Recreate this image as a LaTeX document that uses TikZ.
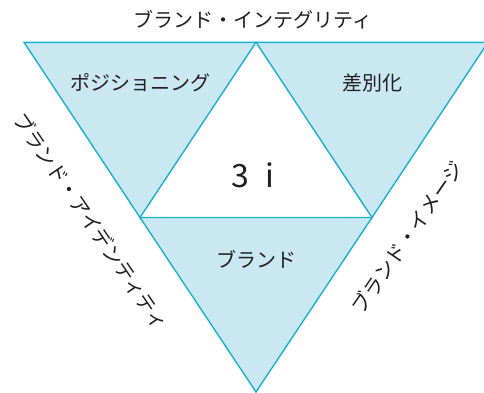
\documentclass[tikz,border=0pt]{standalone}
\usepackage{fontspec}
\setmainfont{Noto Sans CJK JP}
\definecolor{edge}{HTML}{1BB0CF}
\definecolor{paleblue}{HTML}{C9E8F2}
\definecolor{ink}{HTML}{231F20}
\tikzset{
  facet/.style={fill=paleblue, draw=edge, line width=1.4pt, line join=miter},
  lbl/.style={text=ink, font=\fontsize{20}{24}\selectfont, inner sep=0pt}
}
\begin{document}
\begin{tikzpicture}[x=1pt,y=1pt]
\useasboundingbox (0,0) rectangle (484,392);
\coordinate (TL) at (24,349.7);
\coordinate (TM) at (256,349.7);
\coordinate (TR) at (488,349.7);
\coordinate (ML) at (140,174.5);
\coordinate (MR) at (372,174.5);
\coordinate (B) at (256,0);
\begin{scope}
\clip (0,0) rectangle (484,392);
\draw[facet] (TL) -- (TM) -- (ML) -- cycle;
\draw[facet] (TM) -- (TR) -- (MR) -- cycle;
\draw[facet] (ML) -- (MR) -- (B) -- cycle;
\end{scope}
\node[lbl] (top) at (253,372) {ブランド・インテグリティ};
\node[lbl] (pos) at (140,309) {ポジショニング};
\node[lbl] (diff) at (372,309) {差別化};
\node[lbl] (brand) at (256,133) {ブランド};
\node[lbl, font=\fontsize{32}{36}\selectfont] (three) at (253,217) {3\hspace{0.5em}i};
\node[lbl, rotate=-55.7] (ident) at (91,170.5) {ブランド・アイデンティティ};
\node[lbl, rotate=55.5] (image) at (407,155) {ブランド・イメージ};
\end{tikzpicture}
\end{document}
